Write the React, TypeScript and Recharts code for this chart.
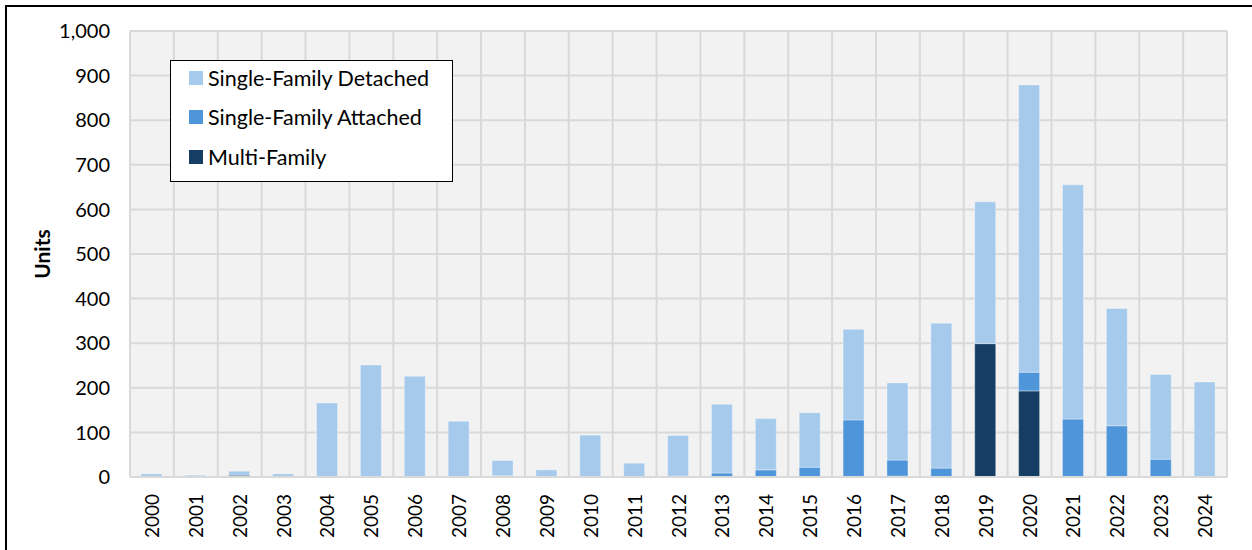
import React from "react";
import {
  Bar,
  BarChart,
  CartesianGrid,
  Legend,
  XAxis,
  YAxis,
} from "recharts";

// Excel-style stacked columns: one blue ramp, darkest at the base.
const DETACHED = "#A6CAEC";
const ATTACHED = "#4E95D9";
const MULTI = "#163E64";
const GRID = "#d9d9d9";
const PLOT_BG = "#f2f2f2";
const FONT = "Lato, 'Open Sans', sans-serif";

const years = [
  "2000", "2001", "2002", "2003", "2004", "2005", "2006", "2007", "2008",
  "2009", "2010", "2011", "2012", "2013", "2014", "2015", "2016", "2017",
  "2018", "2019", "2020", "2021", "2022", "2023", "2024",
];
const multiFamily = [
  0, 0, 4, 0, 0, 0, 0, 0, 0, 0, 0, 0, 0, 0, 0, 0, 0, 2, 0, 299, 193, 0, 0, 0, 0,
];
const singleAttached = [
  0, 0, 0, 0, 0, 0, 0, 0, 3, 0, 0, 0, 2, 9, 16, 22, 128, 36, 20, 0, 42, 130,
  115, 40, 0,
];
const singleDetached = [
  7, 4, 9, 7, 166, 251, 226, 125, 34, 16, 94, 31, 91, 154, 115, 122, 203, 173,
  325, 318, 644, 525, 263, 190, 213,
];
const yTicks = [0, 100, 200, 300, 400, 500, 600, 700, 800, 900, 1000];

const series = [
  { key: "detached", name: "Single-Family Detached", color: DETACHED },
  { key: "attached", name: "Single-Family Attached", color: ATTACHED },
  { key: "multi", name: "Multi-Family", color: MULTI },
];

const data = years.map((year, i) => ({
  year,
  multi: multiFamily[i],
  attached: singleAttached[i],
  detached: singleDetached[i],
}));

const thousands = new Intl.NumberFormat("en-US");

function YearTick({ x, y, payload }: { x?: number; y?: number; payload?: { value: string } }) {
  return (
    <text
      x={0}
      y={0}
      transform={`translate(${(x ?? 0) + 7},${(y ?? 0) + 9}) rotate(-90)`}
      textAnchor="end"
      fill="#000"
      fontSize={19}
      fontFamily={FONT}
    >
      {payload?.value}
    </text>
  );
}

function LegendBox() {
  return (
    <div
      style={{
        border: "1.5px solid #000",
        background: "#fff",
        padding: "0 0 0 18px",
        fontFamily: FONT,
        fontSize: 21.5,
        color: "#000",
        boxSizing: "border-box",
        width: 283,
        height: 122,
      }}
    >
      {series.map((s) => (
        <div
          key={s.key}
          style={{ display: "flex", alignItems: "center", height: 39.5, whiteSpace: "nowrap", marginTop: s.key === "detached" ? -3 : 0 }}
        >
          <span
            style={{
              width: 14,
              height: 14,
              background: s.color,
              display: "inline-block",
              marginRight: 5,
              flex: "none",
            }}
          />
          {s.name}
        </div>
      ))}
    </div>
  );
}

export default function App() {
  return (
    <div
      style={{
        position: "absolute",
        left: 0,
        top: 0,
        width: 1252,
        height: 550,
        background: "#fff",
        overflow: "hidden",
      }}
    >
      <div
        style={{
          position: "absolute",
          left: 5,
          top: 5,
          width: 1300,
          height: 600,
          borderTop: "2px solid #000",
          borderLeft: "2px solid #000",
        }}
      />
      <BarChart
        width={1252}
        height={550}
        data={data}
        barSize={21}
        margin={{ top: 31, right: 25, bottom: 0, left: 0 }}
      >
        <CartesianGrid
          fill={PLOT_BG}
          stroke={GRID}
          strokeWidth={2}
          verticalCoordinatesGenerator={({ offset }: any) =>
            Array.from({ length: years.length + 1 }, (_, i) => offset.left + (i * offset.width) / years.length)
          }
        />
        <XAxis
          dataKey="year"
          height={73}
          interval={0}
          tickLine={false}
          axisLine={{ stroke: GRID, strokeWidth: 2 }}
          tick={<YearTick />}
        />
        <YAxis
          width={130}
          domain={[0, 1000]}
          ticks={yTicks}
          tickLine={false}
          axisLine={false}
          tickSize={0}
          tickMargin={20}
          tickFormatter={(v: number) => thousands.format(v)}
          tick={{ fill: "#000", fontSize: 20, fontFamily: FONT }}
          label={{
            value: "Units",
            angle: -90,
            position: "insideLeft",
            dx: 38,
            style: { fill: "#000", fontSize: 21, fontWeight: 700, fontFamily: FONT, textAnchor: "middle" },
          }}
        />
        <Legend
          layout="vertical"
          verticalAlign="middle"
          align="center"
          content={<LegendBox />}
          wrapperStyle={{ left: 170, top: 60, width: 283, height: 122 }}
        />
        <Bar dataKey="multi" name="Multi-Family" stackId="a" fill={MULTI} stroke="rgba(255,255,255,0.35)" strokeWidth={1} isAnimationActive={false} />
        <Bar dataKey="attached" name="Single-Family Attached" stackId="a" fill={ATTACHED} stroke="rgba(255,255,255,0.35)" strokeWidth={1} isAnimationActive={false} />
        <Bar dataKey="detached" name="Single-Family Detached" stackId="a" fill={DETACHED} stroke="rgba(255,255,255,0.35)" strokeWidth={1} isAnimationActive={false} />
      </BarChart>
    </div>
  );
}
